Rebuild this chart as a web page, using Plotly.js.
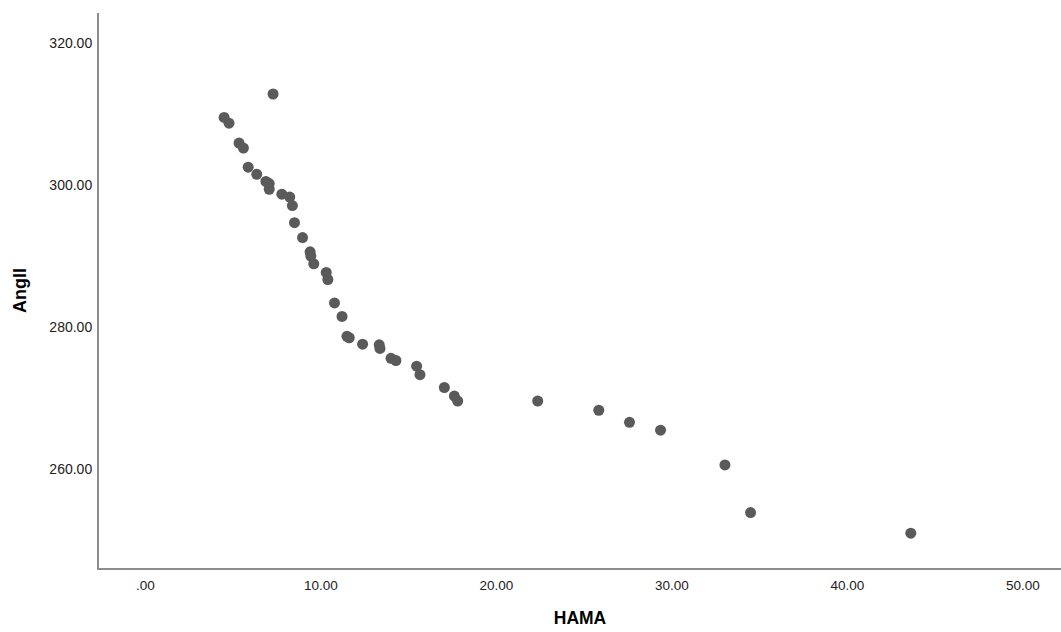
<!DOCTYPE html>
<html>
<head>
<meta charset="utf-8">
<script src="https://cdn.plot.ly/plotly-3.0.1.min.js"></script>
<style>html,body{margin:0;padding:0;background:#fff;}#chart{width:1061px;height:632px;}</style>
</head>
<body>
<div id="chart"></div>
<script>
const hama = [7.27, 4.48, 4.76, 5.33, 5.58, 5.85, 6.34, 6.86, 7.05, 7.05,
  7.77, 8.22, 8.37, 8.49, 8.95, 9.38, 9.42, 9.59, 10.30, 10.39,
  10.77, 11.20, 11.48, 11.61, 12.37, 13.32, 13.36, 13.99, 14.27, 15.45,
  15.64, 17.03, 17.60, 17.79, 22.35, 25.83, 27.58, 29.35, 33.02, 34.48, 43.61];
const angll = [312.8, 309.5, 308.7, 305.9, 305.2, 302.5, 301.5, 300.5, 300.2, 299.4,
  298.7, 298.3, 297.1, 294.7, 292.6, 290.6, 290.0, 288.9, 287.7, 286.7,
  283.4, 281.5, 278.7, 278.5, 277.6, 277.5, 277.0, 275.6, 275.3, 274.5,
  273.3, 271.5, 270.3, 269.6, 269.6, 268.3, 266.6, 265.5, 260.6, 253.9, 251.0];
const xTicks = [0, 10, 20, 30, 40, 50];
const xTickText = ['.00', '10.00', '20.00', '30.00', '40.00', '50.00'];
const yTicks = [260, 280, 300, 320];
const yTickText = ['260.00', '280.00', '300.00', '320.00'];

const trace = {
  x: hama, y: angll, type: 'scatter', mode: 'markers',
  marker: {color: 'rgb(90,90,90)', size: 11, line: {width: 0}},
  hoverinfo: 'skip'
};
const fontFam = 'Liberation Sans, Arial, sans-serif';
const layout = {
  width: 1061, height: 632,
  margin: {l: 99, r: 0, t: 13, b: 63.5},
  paper_bgcolor: '#fff', plot_bgcolor: '#fff',
  showlegend: false,
  font: {family: fontFam, color: '#222', size: 14},
  xaxis: {
    range: [-2.65, 52.17], tickvals: xTicks, ticktext: xTickText,
    showgrid: false, zeroline: false,
    showline: true, linecolor: '#8c8c8c', linewidth: 2,
    ticks: 'outside', ticklen: 4, tickcolor: 'rgba(0,0,0,0)',
    tickfont: {family: fontFam, size: 13.5, color: '#222'},
    title: {text: 'HAMA', font: {family: fontFam, size: 17.5, color: '#000', weight: 'bold'}, standoff: 20},
    automargin: false, fixedrange: true
  },
  yaxis: {
    range: [246.1, 324.2], tickvals: yTicks, ticktext: yTickText,
    showgrid: false, zeroline: false,
    showline: true, linecolor: '#8c8c8c', linewidth: 2,
    ticks: 'outside', ticklen: 2, tickcolor: 'rgba(0,0,0,0)',
    tickfont: {family: fontFam, size: 14, color: '#222'},
    title: {text: 'Angll', font: {family: fontFam, size: 18, color: '#000', weight: 'bold'}, standoff: 18},
    automargin: false, fixedrange: true
  }
};
Plotly.newPlot('chart', [trace], layout, {displayModeBar: false, staticPlot: true});
</script>
</body>
</html>
